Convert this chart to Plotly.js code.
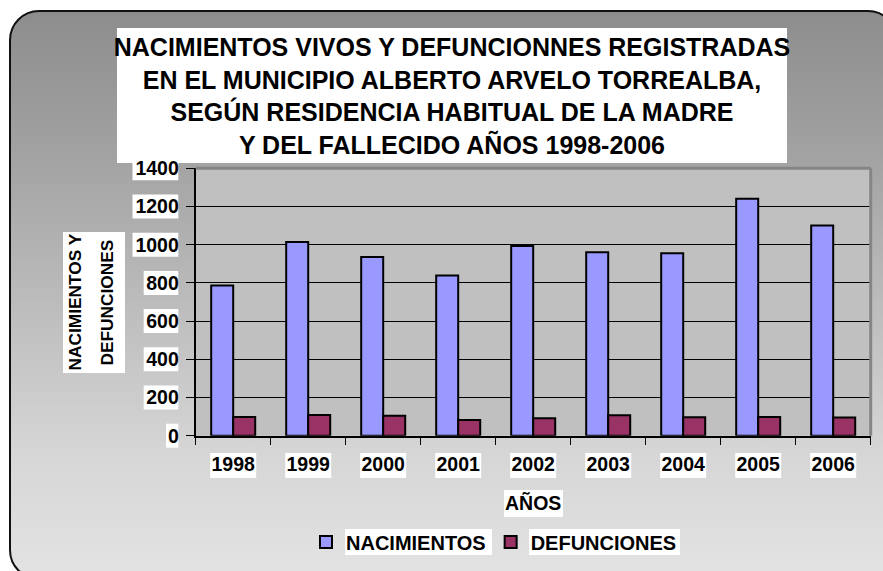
<!DOCTYPE html>
<html>
<head>
<meta charset="utf-8">
<script src="https://cdn.plot.ly/plotly-3.0.1.min.js"></script>
<style>
  html, body { margin: 0; padding: 0; background: #ffffff; width: 883px; height: 571px; overflow: hidden; }
  #bg { position: absolute; left: 9px; top: 10px; width: 889px; height: 570px; box-sizing: border-box;
        border: 2px solid #111; border-radius: 30px;
        background: linear-gradient(to bottom, #8d8d8d 0%, #a2a2a2 25%, #d6d6d6 78%, #e3e3e3 100%); }
  #chart { position: absolute; left: 0; top: 0; width: 883px; height: 571px; }
</style>
</head>
<body>
<div id="bg"></div>
<div id="chart"></div>
<script>
// ---- data ----
const years = ["1998", "1999", "2000", "2001", "2002", "2003", "2004", "2005", "2006"];
const nacimientos = [787, 1014, 935, 839, 993, 960, 955, 1241, 1101];
const defunciones = [98, 108, 105, 82, 91, 107, 96, 98, 95];
const seriesNames = ["NACIMIENTOS", "DEFUNCIONES"];
const yTicks = [0, 200, 400, 600, 800, 1000, 1200, 1400];
const titleLines = [
  "NACIMIENTOS VIVOS Y DEFUNCIONNES REGISTRADAS",
  "EN EL MUNICIPIO ALBERTO ARVELO TORREALBA,",
  "SEGÚN RESIDENCIA HABITUAL DE LA MADRE",
  "Y DEL FALLECIDO AÑOS 1998-2006"
];
const yTitleLines = ["NACIMIENTOS Y", "DEFUNCIONES"];
const xTitle = "AÑOS";

// ---- layout helpers ----
const W = 883, H = 571;
const px = x => x / W;
const py = y => 1 - y / H;
const plotL = 195.7, plotR = 870.7, plotT = 168.3, plotB = 435.7;
const yMax = 1400;
const FONT = "Liberation Sans, Arial, sans-serif";
const colNac = "#9999ff", colDef = "#993366";

function box(x0, y0, x1, y1) {
  return { type: "rect", xref: "paper", yref: "paper", layer: "below",
           x0: px(x0), x1: px(x1), y0: py(y1), y1: py(y0),
           fillcolor: "#ffffff", line: { width: 0 } };
}

const shapes = [];
// title box
shapes.push(box(117, 28, 787, 163));
// y title box
shapes.push(box(63, 232, 125, 373));
// x title box
shapes.push(box(504, 490, 563, 517));
// x tick label boxes
const catW = (plotR - plotL) / years.length;
years.forEach((y, i) => {
  const c = plotL + catW * (i + 0.5);
  shapes.push(box(c - 23, 453, c + 23, 478));
});
// y tick label boxes
yTicks.forEach(v => {
  const yc = plotB - (v / yMax) * (plotB - plotT);
  const w = 11.2 * String(v).length + 1;
  shapes.push(box(178.3 - w, yc - 12, 178.3, yc + 12));
});
// legend text boxes
shapes.push(box(345, 529, 492, 555));
shapes.push(box(529, 529, 680, 555));
// plot-area border (top & right, gray)
shapes.push({ type: "line", xref: "x domain", yref: "y domain", x0: 0, x1: 1, y0: 1, y1: 1,
              layer: "above", line: { color: "#858585", width: 3 } });
shapes.push({ type: "line", xref: "x domain", yref: "y domain", x0: 1, x1: 1, y0: 0, y1: 1,
              layer: "above", line: { color: "#858585", width: 3 } });

const annotations = [
  { xref: "paper", yref: "paper", x: px(74), y: py(302.5), text: yTitleLines[0], textangle: -90,
    showarrow: false, xanchor: "center", yanchor: "middle",
    font: { family: FONT, size: 17.3, color: "#000" } },
  { xref: "paper", yref: "paper", x: px(106), y: py(302.5), text: yTitleLines[1], textangle: -90,
    showarrow: false, xanchor: "center", yanchor: "middle",
    font: { family: FONT, size: 17.3, color: "#000" } }
];

const traces = [
  { type: "bar", name: seriesNames[0], x: years, y: nacimientos,
    marker: { color: colNac, line: { color: "#000", width: 2 } } },
  { type: "bar", name: seriesNames[1], x: years, y: defunciones,
    marker: { color: colDef, line: { color: "#000", width: 2 } } }
];

const layout = {
  width: W, height: H,
  margin: { l: 0, r: 0, t: 0, b: 0 },
  paper_bgcolor: "rgba(0,0,0,0)",
  plot_bgcolor: "#c0c0c0",
  font: { family: FONT, color: "#000", weight: "bold" },
  title: {
    text: titleLines.join("<br>"),
    xref: "paper", yref: "paper", x: px(452), y: py(56), xanchor: "center", yanchor: "middle",
    font: { family: FONT, size: 25, color: "#000", weight: "bold" }
  },
  barmode: "group",
  bargap: 0.413,
  bargroupgap: 0,
  showlegend: true,
  legend: {
    orientation: "h", x: px(306), xanchor: "left", y: py(542), yanchor: "middle",
    bgcolor: "rgba(0,0,0,0)", borderwidth: 0,
    font: { family: FONT, size: 20, color: "#000", weight: "bold" }
  },
  xaxis: {
    type: "category", domain: [px(plotL), px(plotR)],
    showline: true, linecolor: "#000", linewidth: 2,
    ticks: "outside", tickson: "boundaries", ticklen: 7, tickcolor: "#000", tickwidth: 1,
    ticklabelstandoff: 10,
    showgrid: false, zeroline: false,
    tickfont: { family: FONT, size: 19.5, color: "#000", weight: "bold" },
    title: { text: xTitle, standoff: 22, font: { family: FONT, size: 19.5, color: "#000", weight: "bold" } }
  },
  yaxis: {
    domain: [py(plotB), py(plotT)], range: [0, yMax],
    tickvals: yTicks, ticktext: yTicks.map(String),
    showline: true, linecolor: "#000", linewidth: 2,
    ticks: "outside", ticklen: 8, tickcolor: "#000", tickwidth: 1,
    ticklabelstandoff: 3,
    showgrid: true, gridcolor: "#000", gridwidth: 1, zeroline: false,
    tickfont: { family: FONT, size: 19.5, color: "#000", weight: "bold" }
  },
  shapes: shapes,
  annotations: annotations
};

Plotly.newPlot("chart", traces, layout, { displayModeBar: false, staticPlot: true });
</script>
</body>
</html>
